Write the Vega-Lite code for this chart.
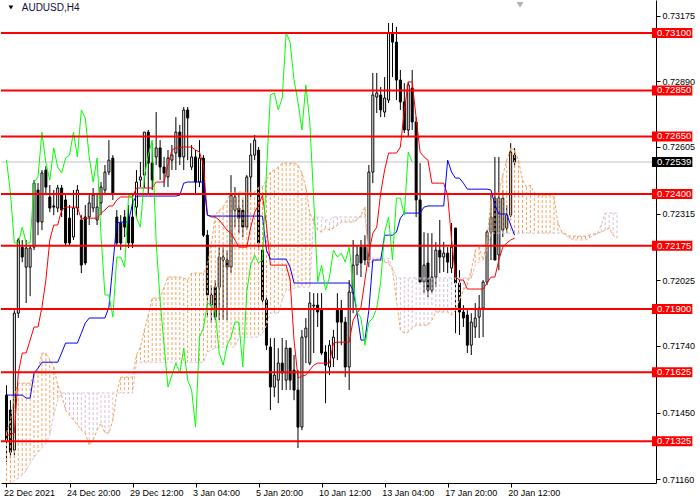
{
"$schema": "https://vega.github.io/schema/vega-lite/v6.json",
"width": 655, "height": 483, "padding": 0, "autosize": {"type": "pad"},
"background": "white",
"config": {"view": {"stroke": null}, "font": "Liberation Sans",
 "axis": {"grid": false, "tickColor": "black", "domainColor": "black", "labelColor": "black", "labelFont": "Liberation Sans", "labelFontSize": 9, "tickSize": 4, "labelOverlap": false, "labelFlush": false},
 "axisX": {"labelPadding": 1, "labelAlign": "left", "labelBaseline": "top", "labelBound": false, "labelOffset": -3},
 "axisY": {"labelPadding": 2, "labelBaseline": "middle"}},
"datasets": {
"candles": [
{"i":0,"o":0.71526,"h":0.71569,"l":0.71235,"c":0.71330},
{"i":1,"o":0.71461,"h":0.71504,"l":0.71252,"c":0.71278},
{"i":2,"o":0.71287,"h":0.71895,"l":0.71265,"c":0.71882},
{"i":3,"o":0.71882,"h":0.72208,"l":0.71861,"c":0.72200},
{"i":4,"o":0.72169,"h":0.72200,"l":0.72104,"c":0.72126},
{"i":5,"o":0.72082,"h":0.72200,"l":0.71926,"c":0.72165},
{"i":6,"o":0.72082,"h":0.72178,"l":0.71956,"c":0.72165},
{"i":7,"o":0.72169,"h":0.72461,"l":0.72156,"c":0.72447},
{"i":8,"o":0.72417,"h":0.72447,"l":0.72221,"c":0.72278},
{"i":9,"o":0.72278,"h":0.72504,"l":0.72243,"c":0.72491},
{"i":10,"o":0.72504,"h":0.72521,"l":0.72395,"c":0.72430},
{"i":11,"o":0.72387,"h":0.72439,"l":0.72321,"c":0.72339},
{"i":12,"o":0.72348,"h":0.72417,"l":0.72308,"c":0.72343},
{"i":13,"o":0.72339,"h":0.72439,"l":0.72321,"c":0.72426},
{"i":14,"o":0.72426,"h":0.72439,"l":0.72300,"c":0.72330},
{"i":15,"o":0.72374,"h":0.72395,"l":0.72178,"c":0.72187},
{"i":16,"o":0.72295,"h":0.72352,"l":0.72178,"c":0.72187},
{"i":17,"o":0.72213,"h":0.72417,"l":0.72200,"c":0.72339},
{"i":18,"o":0.72339,"h":0.72439,"l":0.72308,"c":0.72417},
{"i":19,"o":0.72287,"h":0.72308,"l":0.72056,"c":0.72091},
{"i":20,"o":0.72300,"h":0.72352,"l":0.72091,"c":0.72100},
{"i":21,"o":0.72300,"h":0.72395,"l":0.72265,"c":0.72361},
{"i":22,"o":0.72339,"h":0.72426,"l":0.72321,"c":0.72395},
{"i":23,"o":0.72287,"h":0.72404,"l":0.72265,"c":0.72343},
{"i":24,"o":0.72361,"h":0.72452,"l":0.72308,"c":0.72430},
{"i":25,"o":0.72417,"h":0.72526,"l":0.72395,"c":0.72495},
{"i":26,"o":0.72495,"h":0.72634,"l":0.72482,"c":0.72547},
{"i":27,"o":0.72556,"h":0.72569,"l":0.72374,"c":0.72404},
{"i":28,"o":0.72300,"h":0.72330,"l":0.72178,"c":0.72187},
{"i":29,"o":0.72274,"h":0.72308,"l":0.72156,"c":0.72187},
{"i":30,"o":0.72300,"h":0.72330,"l":0.72213,"c":0.72256},
{"i":31,"o":0.72300,"h":0.72352,"l":0.72165,"c":0.72187},
{"i":32,"o":0.72300,"h":0.72395,"l":0.72165,"c":0.72187},
{"i":33,"o":0.72343,"h":0.72504,"l":0.72300,"c":0.72452},
{"i":34,"o":0.72461,"h":0.72539,"l":0.72430,"c":0.72474},
{"i":35,"o":0.72482,"h":0.72669,"l":0.72426,"c":0.72669},
{"i":36,"o":0.72669,"h":0.72678,"l":0.72404,"c":0.72534},
{"i":37,"o":0.72534,"h":0.72621,"l":0.72417,"c":0.72461},
{"i":38,"o":0.72561,"h":0.72756,"l":0.72526,"c":0.72600},
{"i":39,"o":0.72600,"h":0.72634,"l":0.72461,"c":0.72517},
{"i":40,"o":0.72517,"h":0.72561,"l":0.72430,"c":0.72491},
{"i":41,"o":0.72474,"h":0.72591,"l":0.72430,"c":0.72556},
{"i":42,"o":0.72547,"h":0.72613,"l":0.72504,"c":0.72569},
{"i":43,"o":0.72578,"h":0.72734,"l":0.72504,"c":0.72669},
{"i":44,"o":0.72669,"h":0.72700,"l":0.72526,"c":0.72561},
{"i":45,"o":0.72561,"h":0.72778,"l":0.72504,"c":0.72765},
{"i":46,"o":0.72765,"h":0.72778,"l":0.72547,"c":0.72730},
{"i":47,"o":0.72517,"h":0.72613,"l":0.72504,"c":0.72561},
{"i":48,"o":0.72561,"h":0.72591,"l":0.72395,"c":0.72452},
{"i":49,"o":0.72452,"h":0.72634,"l":0.72430,"c":0.72556},
{"i":50,"o":0.72556,"h":0.72569,"l":0.72213,"c":0.72221},
{"i":51,"o":0.72221,"h":0.72243,"l":0.71865,"c":0.71961},
{"i":52,"o":0.71917,"h":0.72004,"l":0.71839,"c":0.71961},
{"i":53,"o":0.71995,"h":0.72026,"l":0.71852,"c":0.71865},
{"i":54,"o":0.71995,"h":0.72169,"l":0.71852,"c":0.72126},
{"i":55,"o":0.72113,"h":0.72169,"l":0.71852,"c":0.72126},
{"i":56,"o":0.72113,"h":0.72156,"l":0.71852,"c":0.72082},
{"i":57,"o":0.72082,"h":0.72482,"l":0.72056,"c":0.72395},
{"i":58,"o":0.72330,"h":0.72430,"l":0.72256,"c":0.72387},
{"i":59,"o":0.72339,"h":0.72404,"l":0.72230,"c":0.72295},
{"i":60,"o":0.72330,"h":0.72374,"l":0.72213,"c":0.72256},
{"i":61,"o":0.72256,"h":0.72482,"l":0.72243,"c":0.72474},
{"i":62,"o":0.72474,"h":0.72621,"l":0.72387,"c":0.72569},
{"i":63,"o":0.72569,"h":0.72656,"l":0.72547,"c":0.72634},
{"i":64,"o":0.72591,"h":0.72604,"l":0.72156,"c":0.72187},
{"i":65,"o":0.72156,"h":0.72178,"l":0.71917,"c":0.71939},
{"i":66,"o":0.71939,"h":0.71961,"l":0.71722,"c":0.71743},
{"i":67,"o":0.71735,"h":0.71774,"l":0.71461,"c":0.71561},
{"i":68,"o":0.71561,"h":0.71774,"l":0.71517,"c":0.71613},
{"i":69,"o":0.71591,"h":0.71730,"l":0.71491,"c":0.71665},
{"i":70,"o":0.71665,"h":0.71774,"l":0.71548,"c":0.71622},
{"i":71,"o":0.71591,"h":0.71765,"l":0.71548,"c":0.71730},
{"i":72,"o":0.71730,"h":0.71730,"l":0.71548,"c":0.71591},
{"i":73,"o":0.71635,"h":0.71700,"l":0.71504,"c":0.71548},
{"i":74,"o":0.71548,"h":0.71635,"l":0.71296,"c":0.71387},
{"i":75,"o":0.71387,"h":0.71809,"l":0.71374,"c":0.71778},
{"i":76,"o":0.71778,"h":0.71861,"l":0.71665,"c":0.71817},
{"i":77,"o":0.71665,"h":0.71974,"l":0.71656,"c":0.71926},
{"i":78,"o":0.71913,"h":0.71969,"l":0.71709,"c":0.71917},
{"i":79,"o":0.71917,"h":0.71969,"l":0.71822,"c":0.71887},
{"i":80,"o":0.71895,"h":0.71969,"l":0.71700,"c":0.71709},
{"i":81,"o":0.71713,"h":0.71743,"l":0.71491,"c":0.71656},
{"i":82,"o":0.71648,"h":0.71765,"l":0.71613,"c":0.71743},
{"i":83,"o":0.71687,"h":0.71809,"l":0.71648,"c":0.71778},
{"i":84,"o":0.71895,"h":0.71969,"l":0.71678,"c":0.71843},
{"i":85,"o":0.71895,"h":0.71939,"l":0.71743,"c":0.71843},
{"i":86,"o":0.71843,"h":0.71865,"l":0.71604,"c":0.71648},
{"i":87,"o":0.71648,"h":0.72026,"l":0.71548,"c":0.71974},
{"i":88,"o":0.71969,"h":0.72200,"l":0.71882,"c":0.72091},
{"i":89,"o":0.72091,"h":0.72178,"l":0.72048,"c":0.72135},
{"i":90,"o":0.72169,"h":0.72200,"l":0.72039,"c":0.72100},
{"i":91,"o":0.72169,"h":0.72221,"l":0.72091,"c":0.72113},
{"i":92,"o":0.72113,"h":0.72526,"l":0.72082,"c":0.72495},
{"i":93,"o":0.72495,"h":0.72926,"l":0.72447,"c":0.72830},
{"i":94,"o":0.72821,"h":0.72926,"l":0.72752,"c":0.72839},
{"i":95,"o":0.72830,"h":0.72865,"l":0.72734,"c":0.72765},
{"i":96,"o":0.72756,"h":0.72908,"l":0.72734,"c":0.72817},
{"i":97,"o":0.72808,"h":0.73143,"l":0.72795,"c":0.73100},
{"i":98,"o":0.73100,"h":0.73143,"l":0.72908,"c":0.73060},
{"i":99,"o":0.73060,"h":0.73126,"l":0.72808,"c":0.72895},
{"i":100,"o":0.72895,"h":0.72939,"l":0.72765,"c":0.72800},
{"i":101,"o":0.72800,"h":0.72882,"l":0.72665,"c":0.72678},
{"i":102,"o":0.72678,"h":0.72887,"l":0.72647,"c":0.72874},
{"i":103,"o":0.72860,"h":0.72939,"l":0.72678,"c":0.72713},
{"i":104,"o":0.72713,"h":0.72734,"l":0.72300,"c":0.72374},
{"i":105,"o":0.72374,"h":0.72534,"l":0.72017,"c":0.72017},
{"i":106,"o":0.72017,"h":0.72234,"l":0.71969,"c":0.72091},
{"i":107,"o":0.72100,"h":0.72230,"l":0.71952,"c":0.71982},
{"i":108,"o":0.71982,"h":0.72230,"l":0.71969,"c":0.72039},
{"i":109,"o":0.72039,"h":0.72191,"l":0.71995,"c":0.72156},
{"i":110,"o":0.72156,"h":0.72287,"l":0.72056,"c":0.72126},
{"i":111,"o":0.72126,"h":0.72191,"l":0.72061,"c":0.72143},
{"i":112,"o":0.72143,"h":0.72169,"l":0.72056,"c":0.72104},
{"i":113,"o":0.72078,"h":0.72274,"l":0.72056,"c":0.72169},
{"i":114,"o":0.72252,"h":0.72252,"l":0.71795,"c":0.72013},
{"i":115,"o":0.72013,"h":0.72069,"l":0.71787,"c":0.71887},
{"i":116,"o":0.71887,"h":0.71917,"l":0.71822,"c":0.71861},
{"i":117,"o":0.71874,"h":0.71895,"l":0.71709,"c":0.71743},
{"i":118,"o":0.71743,"h":0.71882,"l":0.71700,"c":0.71843},
{"i":119,"o":0.71822,"h":0.71926,"l":0.71774,"c":0.71861},
{"i":120,"o":0.71865,"h":0.71961,"l":0.71774,"c":0.71904},
{"i":121,"o":0.71904,"h":0.72026,"l":0.71778,"c":0.72017},
{"i":122,"o":0.72017,"h":0.72243,"l":0.72004,"c":0.72234},
{"i":123,"o":0.72234,"h":0.72404,"l":0.72113,"c":0.72300},
{"i":124,"o":0.72382,"h":0.72561,"l":0.72113,"c":0.72113},
{"i":125,"o":0.72135,"h":0.72561,"l":0.72069,"c":0.72382},
{"i":126,"o":0.72243,"h":0.72417,"l":0.72213,"c":0.72382},
{"i":127,"o":0.72252,"h":0.72352,"l":0.72230,"c":0.72308},
{"i":128,"o":0.72308,"h":0.72621,"l":0.72300,"c":0.72582},
{"i":129,"o":0.72569,"h":0.72600,"l":0.72517,"c":0.72539}
],
"ichi": [
{"i":0,"t":0.71350,"k":0.71526},{"i":1,"t":0.71355,"k":0.71526},{"i":2,"t":0.71361,"k":0.71526},{"i":3,"t":0.71622,"k":0.71526},
{"i":4,"t":0.71709,"k":0.71526},{"i":5,"t":0.71709,"k":0.71513},{"i":6,"t":0.71765,"k":0.71513},{"i":7,"t":0.71822,"k":0.71622},
{"i":8,"t":0.71822,"k":0.71643},{"i":9,"t":0.71908,"k":0.71669},{"i":10,"t":0.72026,"k":0.71669},{"i":11,"t":0.72200,"k":0.71669},
{"i":12,"t":0.72265,"k":0.71669},{"i":13,"t":0.72265,"k":0.71669},{"i":14,"t":0.72330,"k":0.71709},{"i":15,"t":0.72343,"k":0.71752},
{"i":16,"t":0.72343,"k":0.71752},{"i":17,"t":0.72343,"k":0.71752},{"i":18,"t":0.72343,"k":0.71752},{"i":19,"t":0.72291,"k":0.71795},
{"i":20,"t":0.72295,"k":0.71839},{"i":21,"t":0.72295,"k":0.71861},{"i":22,"t":0.72295,"k":0.71861},{"i":23,"t":0.72295,"k":0.71861},
{"i":24,"t":0.72317,"k":0.71861},{"i":25,"t":0.72330,"k":0.71861},{"i":26,"t":0.72348,"k":0.71908},{"i":27,"t":0.72348,"k":0.72091},
{"i":28,"t":0.72374,"k":0.72274},{"i":29,"t":0.72387,"k":0.72278},{"i":30,"t":0.72387,"k":0.72278},{"i":31,"t":0.72387,"k":0.72278},
{"i":32,"t":0.72387,"k":0.72361},{"i":33,"t":0.72426,"k":0.72391},{"i":34,"t":0.72426,"k":0.72391},{"i":35,"t":0.72426,"k":0.72391},
{"i":36,"t":0.72426,"k":0.72391},{"i":37,"t":0.72426,"k":0.72391},{"i":38,"t":0.72452,"k":0.72391},{"i":39,"t":0.72452,"k":0.72391},
{"i":40,"t":0.72452,"k":0.72391},{"i":41,"t":0.72526,"k":0.72391},{"i":42,"t":0.72591,"k":0.72391},{"i":43,"t":0.72600,"k":0.72391},
{"i":44,"t":0.72600,"k":0.72395},{"i":45,"t":0.72604,"k":0.72447},{"i":46,"t":0.72604,"k":0.72452},{"i":47,"t":0.72604,"k":0.72452},
{"i":48,"t":0.72591,"k":0.72452},{"i":49,"t":0.72582,"k":0.72452},{"i":50,"t":0.72526,"k":0.72452},{"i":51,"t":0.72308,"k":0.72308},
{"i":52,"t":0.72300,"k":0.72304},{"i":53,"t":0.72300,"k":0.72304},{"i":54,"t":0.72287,"k":0.72304},{"i":55,"t":0.72265,"k":0.72304},
{"i":56,"t":0.72243,"k":0.72304},{"i":57,"t":0.72230,"k":0.72304},{"i":58,"t":0.72200,"k":0.72304},{"i":59,"t":0.72169,"k":0.72304},
{"i":60,"t":0.72169,"k":0.72304},{"i":61,"t":0.72169,"k":0.72304},{"i":62,"t":0.72256,"k":0.72304},{"i":63,"t":0.72321,"k":0.72304},
{"i":64,"t":0.72352,"k":0.72304},{"i":65,"t":0.72395,"k":0.72304},{"i":66,"t":0.72265,"k":0.72156},{"i":67,"t":0.72091,"k":0.72117},
{"i":68,"t":0.72091,"k":0.72117},{"i":69,"t":0.72091,"k":0.72117},{"i":70,"t":0.72091,"k":0.72117},{"i":71,"t":0.72091,"k":0.72117},
{"i":72,"t":0.72026,"k":0.72082},{"i":73,"t":0.71765,"k":0.72013},{"i":74,"t":0.71600,"k":0.72013},{"i":75,"t":0.71609,"k":0.72013},
{"i":76,"t":0.71613,"k":0.72013},{"i":77,"t":0.71635,"k":0.72013},{"i":78,"t":0.71656,"k":0.72013},{"i":79,"t":0.71665,"k":0.72013},
{"i":80,"t":0.71665,"k":0.72013},{"i":81,"t":0.71665,"k":0.72013},{"i":82,"t":0.71665,"k":0.72013},{"i":83,"t":0.71752,"k":0.72013},
{"i":84,"t":0.71756,"k":0.72013},{"i":85,"t":0.71756,"k":0.72013},{"i":86,"t":0.71756,"k":0.72013},{"i":87,"t":0.71756,"k":0.72013},
{"i":88,"t":0.71852,"k":0.71982},{"i":89,"t":0.71882,"k":0.71882},{"i":90,"t":0.71908,"k":0.71765},{"i":91,"t":0.72026,"k":0.71765},
{"i":92,"t":0.72143,"k":0.71895},{"i":93,"t":0.72230,"k":0.72113},{"i":94,"t":0.72256,"k":0.72113},{"i":95,"t":0.72404,"k":0.72113},
{"i":96,"t":0.72504,"k":0.72221},{"i":97,"t":0.72578,"k":0.72221},{"i":98,"t":0.72578,"k":0.72221},{"i":99,"t":0.72578,"k":0.72234},
{"i":100,"t":0.72604,"k":0.72295},{"i":101,"t":0.72765,"k":0.72317},{"i":102,"t":0.72887,"k":0.72317},{"i":103,"t":0.72887,"k":0.72317},
{"i":104,"t":0.72730,"k":0.72317},{"i":105,"t":0.72582,"k":0.72317},{"i":106,"t":0.72561,"k":0.72343},{"i":107,"t":0.72547,"k":0.72348},
{"i":108,"t":0.72447,"k":0.72348},{"i":109,"t":0.72447,"k":0.72348},{"i":110,"t":0.72447,"k":0.72348},{"i":111,"t":0.72447,"k":0.72348},
{"i":112,"t":0.72395,"k":0.72547},{"i":113,"t":0.72200,"k":0.72495},{"i":114,"t":0.72039,"k":0.72469},{"i":115,"t":0.72026,"k":0.72469},
{"i":116,"t":0.72026,"k":0.72447},{"i":117,"t":0.71987,"k":0.72421},{"i":118,"t":0.71987,"k":0.72421},{"i":119,"t":0.71987,"k":0.72421},
{"i":120,"t":0.71987,"k":0.72421},{"i":121,"t":0.71987,"k":0.72421},{"i":122,"t":0.72013,"k":0.72421},{"i":123,"t":0.72039,"k":0.72417},
{"i":124,"t":0.72039,"k":0.72352},{"i":125,"t":0.72113,"k":0.72313},{"i":126,"t":0.72169,"k":0.72313},{"i":127,"t":0.72187,"k":0.72313},
{"i":128,"t":0.72200,"k":0.72265},{"i":129,"t":0.72208,"k":0.72221}
],
"chikou": [
{"i":0,"v":0.72547},{"i":1,"v":0.72404},{"i":2,"v":0.72187},{"i":3,"v":0.72187},{"i":4,"v":0.72256},{"i":5,"v":0.72187},
{"i":6,"v":0.72187},{"i":7,"v":0.72452},{"i":8,"v":0.72474},{"i":9,"v":0.72669},{"i":10,"v":0.72534},{"i":11,"v":0.72461},
{"i":12,"v":0.72600},{"i":13,"v":0.72517},{"i":14,"v":0.72491},{"i":15,"v":0.72556},{"i":16,"v":0.72569},{"i":17,"v":0.72669},
{"i":18,"v":0.72561},{"i":19,"v":0.72765},{"i":20,"v":0.72730},{"i":21,"v":0.72561},{"i":22,"v":0.72452},{"i":23,"v":0.72556},
{"i":24,"v":0.72221},{"i":25,"v":0.71961},{"i":26,"v":0.71961},{"i":27,"v":0.71865},{"i":28,"v":0.72126},{"i":29,"v":0.72126},
{"i":30,"v":0.72082},{"i":31,"v":0.72395},{"i":32,"v":0.72387},{"i":33,"v":0.72295},{"i":34,"v":0.72256},{"i":35,"v":0.72474},
{"i":36,"v":0.72569},{"i":37,"v":0.72634},{"i":38,"v":0.72187},{"i":39,"v":0.71939},{"i":40,"v":0.71743},{"i":41,"v":0.71561},
{"i":42,"v":0.71613},{"i":43,"v":0.71665},{"i":44,"v":0.71622},{"i":45,"v":0.71730},{"i":46,"v":0.71591},{"i":47,"v":0.71548},
{"i":48,"v":0.71387},{"i":49,"v":0.71778},{"i":50,"v":0.71817},{"i":51,"v":0.71926},{"i":52,"v":0.71917},{"i":53,"v":0.71887},
{"i":54,"v":0.71709},{"i":55,"v":0.71656},{"i":56,"v":0.71743},{"i":57,"v":0.71778},{"i":58,"v":0.71843},{"i":59,"v":0.71843},
{"i":60,"v":0.71648},{"i":61,"v":0.71974},{"i":62,"v":0.72091},{"i":63,"v":0.72135},{"i":64,"v":0.72100},{"i":65,"v":0.72113},
{"i":66,"v":0.72495},{"i":67,"v":0.72830},{"i":68,"v":0.72839},{"i":69,"v":0.72765},{"i":70,"v":0.72817},{"i":71,"v":0.73100},
{"i":72,"v":0.73060},{"i":73,"v":0.72895},{"i":74,"v":0.72800},{"i":75,"v":0.72678},{"i":76,"v":0.72874},{"i":77,"v":0.72713},
{"i":78,"v":0.72374},{"i":79,"v":0.72017},{"i":80,"v":0.72091},{"i":81,"v":0.71982},{"i":82,"v":0.72039},{"i":83,"v":0.72156},
{"i":84,"v":0.72126},{"i":85,"v":0.72143},{"i":86,"v":0.72104},{"i":87,"v":0.72169},{"i":88,"v":0.72013},{"i":89,"v":0.71887},
{"i":90,"v":0.71861},{"i":91,"v":0.71743},{"i":92,"v":0.71843},{"i":93,"v":0.71861},{"i":94,"v":0.71904},{"i":95,"v":0.72017},
{"i":96,"v":0.72234},{"i":97,"v":0.72300},{"i":98,"v":0.72113},{"i":99,"v":0.72382},{"i":100,"v":0.72382},{"i":101,"v":0.72308},
{"i":102,"v":0.72582},{"i":103,"v":0.72539}
],
"cloud": [
{"i":0,"a":0.71361,"b":0.71113},{"i":1,"a":0.71417,"b":0.71135},{"i":2,"a":0.71526,"b":0.71156},{"i":3,"a":0.71578,"b":0.71165},
{"i":4,"a":0.71578,"b":0.71178},{"i":5,"a":0.71578,"b":0.71200},{"i":6,"a":0.71578,"b":0.71230},{"i":7,"a":0.71613,"b":0.71256},
{"i":8,"a":0.71635,"b":0.71278},{"i":9,"a":0.71708,"b":0.71296},{"i":10,"a":0.71708,"b":0.71317},{"i":11,"a":0.71678,"b":0.71352},
{"i":12,"a":0.71648,"b":0.71439},{"i":13,"a":0.71569,"b":0.71504},{"i":14,"a":0.71526,"b":0.71535},{"i":15,"a":0.71461,"b":0.71535},
{"i":16,"a":0.71439,"b":0.71535},{"i":17,"a":0.71417,"b":0.71535},{"i":18,"a":0.71396,"b":0.71535},{"i":19,"a":0.71374,"b":0.71535},
{"i":20,"a":0.71361,"b":0.71535},{"i":21,"a":0.71309,"b":0.71535},{"i":22,"a":0.71330,"b":0.71535},{"i":23,"a":0.71374,"b":0.71535},
{"i":24,"a":0.71404,"b":0.71535},{"i":25,"a":0.71361,"b":0.71535},{"i":26,"a":0.71361,"b":0.71535},{"i":27,"a":0.71417,"b":0.71535},
{"i":28,"a":0.71535,"b":0.71535},{"i":29,"a":0.71604,"b":0.71535},{"i":30,"a":0.71604,"b":0.71535},{"i":31,"a":0.71604,"b":0.71535},
{"i":32,"a":0.71604,"b":0.71535},{"i":33,"a":0.71700,"b":0.71669},{"i":34,"a":0.71735,"b":0.71669},{"i":35,"a":0.71809,"b":0.71669},
{"i":36,"a":0.71874,"b":0.71669},{"i":37,"a":0.71948,"b":0.71669},{"i":38,"a":0.71948,"b":0.71669},{"i":39,"a":0.71948,"b":0.71669},
{"i":40,"a":0.71995,"b":0.71669},{"i":41,"a":0.72039,"b":0.71669},{"i":42,"a":0.72039,"b":0.71669},{"i":43,"a":0.72039,"b":0.71669},
{"i":44,"a":0.72039,"b":0.71669},{"i":45,"a":0.72035,"b":0.71669},{"i":46,"a":0.72026,"b":0.71669},{"i":47,"a":0.72056,"b":0.71669},
{"i":48,"a":0.72056,"b":0.71669},{"i":49,"a":0.72056,"b":0.71669},{"i":50,"a":0.72056,"b":0.71669},{"i":51,"a":0.72091,"b":0.71713},
{"i":52,"a":0.72178,"b":0.71722},{"i":53,"a":0.72308,"b":0.71730},{"i":54,"a":0.72330,"b":0.71735},{"i":55,"a":0.72343,"b":0.71735},
{"i":56,"a":0.72374,"b":0.71735},{"i":57,"a":0.72408,"b":0.71735},{"i":58,"a":0.72408,"b":0.71735},{"i":59,"a":0.72408,"b":0.71778},
{"i":60,"a":0.72408,"b":0.71778},{"i":61,"a":0.72408,"b":0.71778},{"i":62,"a":0.72408,"b":0.71778},{"i":63,"a":0.72408,"b":0.71778},
{"i":64,"a":0.72430,"b":0.71778},{"i":65,"a":0.72430,"b":0.71795},{"i":66,"a":0.72461,"b":0.71830},{"i":67,"a":0.72495,"b":0.71882},
{"i":68,"a":0.72504,"b":0.71882},{"i":69,"a":0.72517,"b":0.71882},{"i":70,"a":0.72534,"b":0.71939},{"i":71,"a":0.72534,"b":0.71982},
{"i":72,"a":0.72534,"b":0.71982},{"i":73,"a":0.72534,"b":0.71991},{"i":74,"a":0.72526,"b":0.71995},{"i":75,"a":0.72491,"b":0.71995},
{"i":76,"a":0.72430,"b":0.71995},{"i":77,"a":0.72317,"b":0.71995},{"i":78,"a":0.72278,"b":0.72300},{"i":79,"a":0.72243,"b":0.72300},
{"i":80,"a":0.72234,"b":0.72300},{"i":81,"a":0.72252,"b":0.72287},{"i":82,"a":0.72243,"b":0.72287},{"i":83,"a":0.72252,"b":0.72300},
{"i":84,"a":0.72265,"b":0.72300},{"i":85,"a":0.72278,"b":0.72300},{"i":86,"a":0.72278,"b":0.72300},{"i":87,"a":0.72278,"b":0.72300},
{"i":88,"a":0.72278,"b":0.72300},{"i":89,"a":0.72287,"b":0.72300},{"i":90,"a":0.72308,"b":0.72300},{"i":91,"a":0.72343,"b":0.72300},
{"i":92,"a":0.72104,"b":0.72121},{"i":93,"a":0.72104,"b":0.72121},{"i":94,"a":0.72113,"b":0.72121},{"i":95,"a":0.72113,"b":0.72121},
{"i":96,"a":0.72104,"b":0.72121},{"i":97,"a":0.72100,"b":0.72121},{"i":98,"a":0.72069,"b":0.72078},{"i":99,"a":0.71939,"b":0.72035},
{"i":100,"a":0.71809,"b":0.72035},{"i":101,"a":0.71795,"b":0.72035},{"i":102,"a":0.71800,"b":0.72035},{"i":103,"a":0.71817,"b":0.72035},
{"i":104,"a":0.71830,"b":0.72035},{"i":105,"a":0.71830,"b":0.72035},{"i":106,"a":0.71830,"b":0.72035},{"i":107,"a":0.71830,"b":0.72035},
{"i":108,"a":0.71852,"b":0.72035},{"i":109,"a":0.71887,"b":0.72035},{"i":110,"a":0.71887,"b":0.72035},{"i":111,"a":0.71887,"b":0.72035},
{"i":112,"a":0.71887,"b":0.72035},{"i":113,"a":0.71874,"b":0.72035},{"i":114,"a":0.71895,"b":0.72035},{"i":115,"a":0.71939,"b":0.72035},
{"i":116,"a":0.71982,"b":0.72035},{"i":117,"a":0.72004,"b":0.72035},{"i":118,"a":0.72069,"b":0.72035},{"i":119,"a":0.72156,"b":0.72091},
{"i":120,"a":0.72169,"b":0.72104},{"i":121,"a":0.72113,"b":0.72113},{"i":122,"a":0.72200,"b":0.72156},{"i":123,"a":0.72374,"b":0.72230},
{"i":124,"a":0.72404,"b":0.72230},{"i":125,"a":0.72404,"b":0.72230},{"i":126,"a":0.72482,"b":0.72230},{"i":127,"a":0.72547,"b":0.72230},
{"i":128,"a":0.72600,"b":0.72230},{"i":129,"a":0.72591,"b":0.72230},{"i":130,"a":0.72547,"b":0.72230},{"i":131,"a":0.72461,"b":0.72230},
{"i":132,"a":0.72430,"b":0.72230},{"i":133,"a":0.72439,"b":0.72230},{"i":134,"a":0.72404,"b":0.72230},{"i":135,"a":0.72395,"b":0.72230},
{"i":136,"a":0.72395,"b":0.72230},{"i":137,"a":0.72395,"b":0.72230},{"i":138,"a":0.72395,"b":0.72230},{"i":139,"a":0.72387,"b":0.72230},
{"i":140,"a":0.72274,"b":0.72230},{"i":141,"a":0.72234,"b":0.72230},{"i":142,"a":0.72226,"b":0.72221},{"i":143,"a":0.72217,"b":0.72208},
{"i":144,"a":0.72217,"b":0.72200},{"i":145,"a":0.72217,"b":0.72200},{"i":146,"a":0.72217,"b":0.72200},{"i":147,"a":0.72217,"b":0.72200},
{"i":148,"a":0.72221,"b":0.72208},{"i":149,"a":0.72226,"b":0.72221},{"i":150,"a":0.72230,"b":0.72226},{"i":151,"a":0.72234,"b":0.72265},
{"i":152,"a":0.72243,"b":0.72317},{"i":153,"a":0.72252,"b":0.72317},{"i":154,"a":0.72221,"b":0.72317},{"i":155,"a":0.72208,"b":0.72317}
],
"levels": [{"level":0.731},{"level":0.7285},{"level":0.7265},{"level":0.724},{"level":0.72175},{"level":0.719},{"level":0.71625},{"level":0.71325}],
"bid": [{"p":0.72539}]
},
"layer": [
{"data": {"name": "bid"}, "mark": {"type": "rule", "color": "#C0C0C0", "strokeWidth": 1},
 "encoding": {"y": {"field": "p", "type": "quantitative", "title": null, "scale": {"domain": [0.71144, 0.73243], "nice": false, "zero": false},
  "axis": {"orient": "right", "values": [0.73175,0.73035,0.7289,0.72745,0.72605,0.7246,0.72315,0.7217,0.72025,0.7188,0.7174,0.71595,0.7145,0.71305,0.7116], "format": ".5f", "title": null, "grid": false}}}},
{"data": {"name": "candles"}, "mark": {"type": "rule", "color": "black", "strokeWidth": 1, "clip": true},
 "encoding": {
  "x": {"field": "i", "type": "quantitative", "title": null, "scale": {"domain": [-0.125, 163.625], "nice": false, "zero": false},
   "axis": {"orient": "bottom", "values": [0,16,32,48,64,80,96,112,128], "labelExpr": "['22 Dec 2021','24 Dec 20:00','29 Dec 12:00','3 Jan 04:00','5 Jan 20:00','10 Jan 12:00','13 Jan 04:00','17 Jan 20:00','20 Jan 12:00'][round(datum.value/16)]", "title": null, "grid": false}},
  "y": {"field": "l", "type": "quantitative", "title": null, "scale": {"domain": [0.71144, 0.73243], "nice": false, "zero": false}},
  "y2": {"field": "h"}}},
{"data": {"name": "candles"}, "mark": {"type": "bar", "size": 2, "stroke": "black", "strokeWidth": 1, "clip": true},
 "encoding": {
  "x": {"field": "i", "type": "quantitative", "title": null},
  "y": {"field": "o", "type": "quantitative", "title": null},
  "y2": {"field": "c"},
  "fill": {"condition": {"test": "datum.c >= datum.o", "value": "white"}, "value": "black"}}},
{"data": {"name": "cloud"}, "mark": {"type": "rule", "strokeWidth": 1, "strokeDash": [3, 2], "clip": true},
 "encoding": {
  "x": {"field": "i", "type": "quantitative", "title": null},
  "y": {"field": "a", "type": "quantitative", "title": null},
  "y2": {"field": "b"},
  "color": {"condition": {"test": "datum.a >= datum.b", "value": "#F4A460"}, "value": "#D8BFD8"}}},
{"data": {"name": "cloud"}, "mark": {"type": "line", "color": "#F4A460", "strokeWidth": 1, "strokeDash": [3, 2], "clip": true},
 "encoding": {
  "x": {"field": "i", "type": "quantitative", "title": null},
  "y": {"field": "a", "type": "quantitative", "title": null}}},
{"data": {"name": "cloud"}, "mark": {"type": "line", "color": "#D8BFD8", "strokeWidth": 1, "strokeDash": [3, 2], "clip": true},
 "encoding": {
  "x": {"field": "i", "type": "quantitative", "title": null},
  "y": {"field": "b", "type": "quantitative", "title": null}}},
{"data": {"name": "ichi"}, "mark": {"type": "line", "color": "#FF0000", "strokeWidth": 1, "clip": true},
 "encoding": {
  "x": {"field": "i", "type": "quantitative", "title": null},
  "y": {"field": "t", "type": "quantitative", "title": null}}},
{"data": {"name": "ichi"}, "mark": {"type": "line", "color": "#0000FF", "strokeWidth": 1, "clip": true},
 "encoding": {
  "x": {"field": "i", "type": "quantitative", "title": null},
  "y": {"field": "k", "type": "quantitative", "title": null}}},
{"data": {"name": "chikou"}, "mark": {"type": "line", "color": "#00FF00", "strokeWidth": 1, "clip": true},
 "encoding": {
  "x": {"field": "i", "type": "quantitative", "title": null},
  "y": {"field": "v", "type": "quantitative", "title": null}}},
{"data": {"name": "levels"}, "mark": {"type": "rule", "color": "#FF0000", "strokeWidth": 2},
 "encoding": {"y": {"field": "level", "type": "quantitative", "title": null}}},
{"data": {"name": "levels"}, "mark": {"type": "rect", "color": "#FF0000", "yOffset": -5, "y2Offset": 5},
 "encoding": {
  "x": {"datum": 163.875, "type": "quantitative", "title": null},
  "x2": {"datum": 174.125},
  "y": {"field": "level", "type": "quantitative", "title": null},
  "y2": {"field": "level"}}},
{"data": {"name": "levels"}, "mark": {"type": "text", "color": "white", "align": "left", "baseline": "middle", "fontSize": 9.5, "font": "Liberation Sans"},
 "encoding": {
  "x": {"datum": 165.125, "type": "quantitative", "title": null},
  "y": {"field": "level", "type": "quantitative", "title": null},
  "text": {"field": "level", "type": "quantitative", "format": ".5f"}}},
{"data": {"name": "bid"}, "mark": {"type": "rect", "color": "black", "yOffset": -5, "y2Offset": 5},
 "encoding": {
  "x": {"datum": 163.875, "type": "quantitative", "title": null},
  "x2": {"datum": 174.125},
  "y": {"field": "p", "type": "quantitative", "title": null},
  "y2": {"field": "p"}}},
{"data": {"name": "bid"}, "mark": {"type": "text", "color": "white", "align": "left", "baseline": "middle", "fontSize": 9.5, "font": "Liberation Sans"},
 "encoding": {
  "x": {"datum": 165.125, "type": "quantitative", "title": null},
  "y": {"field": "p", "type": "quantitative", "title": null},
  "text": {"field": "p", "type": "quantitative", "format": ".5f"}}},
{"data": {"values": [{"name": "AUDUSD,H4"}]}, "mark": {"type": "text", "color": "#10103A", "align": "left", "baseline": "middle", "fontSize": 10, "font": "Liberation Sans"},
 "encoding": {
  "x": {"datum": 3.875, "type": "quantitative", "title": null},
  "y": {"datum": 0.73208, "type": "quantitative", "title": null},
  "text": {"field": "name", "type": "nominal"}}},
{"data": {"values": [{"m": "menu"}]}, "mark": {"type": "point", "shape": "triangle-down", "filled": true, "color": "black", "size": 22, "opacity": 1},
 "encoding": {
  "x": {"datum": 1.125, "type": "quantitative", "title": null},
  "y": {"datum": 0.73210, "type": "quantitative", "title": null}}},
{"data": {"values": [{"m": "shift"}]}, "mark": {"type": "point", "shape": "triangle-down", "filled": true, "color": "#B0B0B0", "size": 45, "opacity": 1},
 "encoding": {
  "x": {"datum": 130.375, "type": "quantitative", "title": null},
  "y": {"datum": 0.73222, "type": "quantitative", "title": null}}}
]
}
